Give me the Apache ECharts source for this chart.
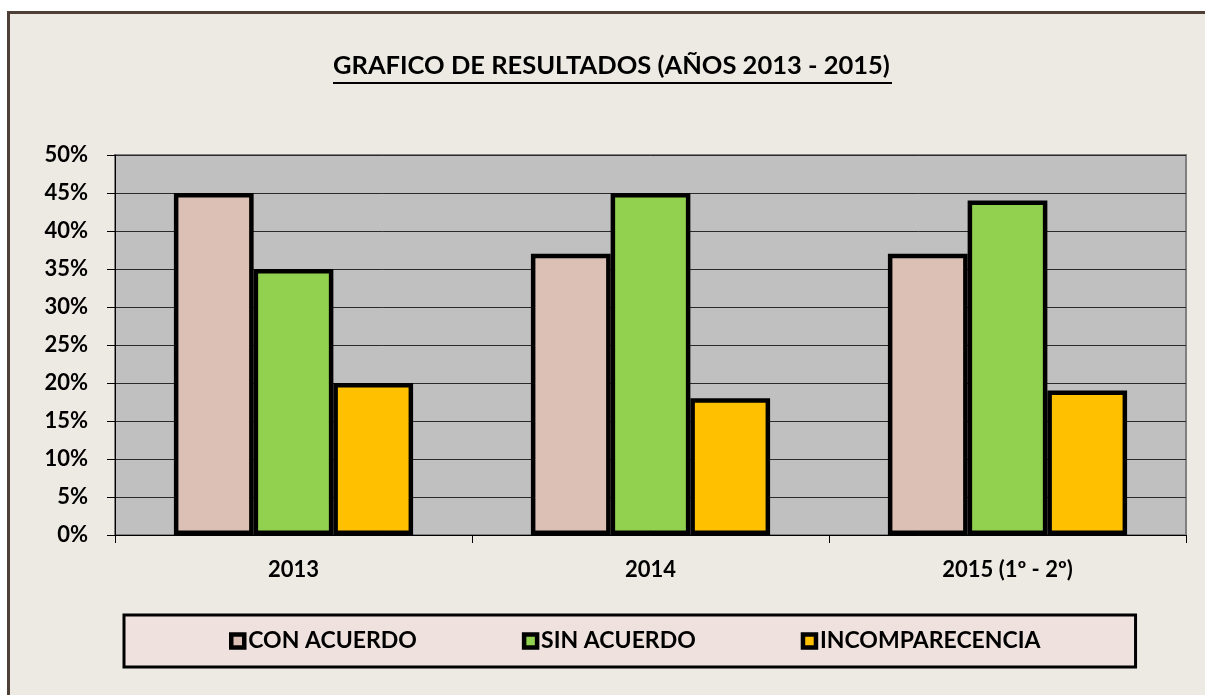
<!DOCTYPE html>
<html>
<head>
<meta charset="utf-8">
<script src="https://cdn.jsdelivr.net/npm/echarts@6/dist/echarts.min.js"></script>
<style>
  html, body { margin: 0; padding: 0; background: #fff; }
  #chart { width: 1205px; height: 695px; }
</style>
</head>
<body>
<div id="chart"></div>
<script>
// datos
const years = ['2013', '2014', '2015 (1º - 2º)']
const conAcuerdo = [45, 37, 37]
const sinAcuerdo = [35, 45, 44]
const incomparecencia = [20, 18, 19]
const seriesNames = ['CON ACUERDO', 'SIN ACUERDO', 'INCOMPARECENCIA']
const colors = ['#DCC0B5', '#92D050', '#FFC000']

const font = 'Lato, "Open Sans", sans-serif'

const chart = echarts.init(document.getElementById('chart'))

const makeBar = (name, data, color) => ({
  name,
  type: 'bar',
  data,
  barGap: '0%',
  barCategoryGap: '33%',
  itemStyle: {
    color,
    borderColor: '#000',
    borderWidth: 4.5
  },
  emphasis: { disabled: true }
})

chart.setOption({
  animation: false,
  textStyle: { fontFamily: font },
  graphic: [
    {
      type: 'rect',
      z: -10,
      silent: true,
      shape: { x: 8.5, y: 12.5, width: 1300, height: 800 },
      style: { fill: '#EDEAE3', stroke: '#4E4036', lineWidth: 3 }
    },
    {
      type: 'line',
      silent: true,
      shape: { x1: 333, y1: 83, x2: 892, y2: 83 },
      style: { stroke: '#000', lineWidth: 2 }
    }
  ],
  title: {
    text: 'GRAFICO DE RESULTADOS (AÑOS 2013 - 2015)',
    left: 333,
    top: 53,
    padding: 0,
    textStyle: {
      fontFamily: font,
      fontSize: 25.5,
      fontWeight: 'bold',
      color: '#000'
    }
  },
  legend: {
    data: seriesNames,
    left: 124,
    top: 615,
    padding: [14, 95, 14, 105],
    itemGap: 105,
    icon: 'rect',
    itemWidth: 13,
    itemHeight: 13,
    itemStyle: { borderColor: '#000', borderWidth: 4.5 },
    backgroundColor: '#EFE1DD',
    borderColor: '#000',
    borderWidth: 3,
    selectedMode: false,
    textStyle: {
      fontFamily: font,
      fontSize: 23,
      lineHeight: 24,
      fontWeight: 'bold',
      color: '#000',
      padding: [0, 0, 0, -1]
    }
  },
  grid: {
    left: 115,
    top: 155,
    right: 19,
    bottom: 160,
    show: true,
    backgroundColor: '#C0C0C0',
    borderColor: '#808080',
    borderWidth: 2
  },
  xAxis: {
    type: 'category',
    data: years,
    axisLine: { lineStyle: { color: '#000', width: 1 } },
    axisTick: { show: true, length: 8, lineStyle: { color: '#000' } },
    axisLabel: {
      margin: 24,
      fontFamily: font,
      fontSize: 22,
      fontWeight: 'bold',
      color: '#000'
    }
  },
  yAxis: {
    type: 'value',
    min: 0,
    max: 50,
    interval: 5,
    axisLine: { show: true, lineStyle: { color: '#000', width: 1 } },
    axisTick: { show: true, length: 8, lineStyle: { color: '#000' } },
    splitLine: { lineStyle: { color: '#2a2a2a', width: 1 } },
    axisLabel: {
      formatter: '{value}%',
      margin: 27,
      fontFamily: font,
      fontSize: 22,
      fontWeight: 'bold',
      color: '#000'
    }
  },
  series: [
    makeBar(seriesNames[0], conAcuerdo, colors[0]),
    makeBar(seriesNames[1], sinAcuerdo, colors[1]),
    makeBar(seriesNames[2], incomparecencia, colors[2])
  ]
})
</script>
</body>
</html>
